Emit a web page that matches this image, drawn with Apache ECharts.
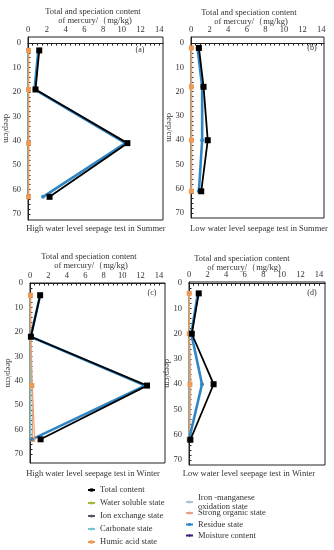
<!DOCTYPE html>
<html>
<head>
<meta charset="utf-8">
<script src="https://cdn.jsdelivr.net/npm/echarts@6/dist/echarts.min.js"></script>
<style>html,body{margin:0;padding:0;background:#fff}#c{width:334px;height:550px}</style>
</head>
<body>
<div id="c"></div>
<script>
// ---------- data ----------
const xTickLabels = [0, 2, 4, 6, 8, 10, 12, 14];
const yTickLabels = [0, 10, 20, 30, 40, 50, 60, 70];
const seriesNames = ['Total content','Water soluble state','Ion exchange state','Carbonate state','Humic acid state',
  'Iron -manganese oxidation state','Strong organic state','Residue state','Moisture content'];
const panelLabels = ['(a)','(b)','(c)','(d)'];
const panelCaptions = ['High water level seepage test in Summer','Low water level seepage test in Summer',
  'High water level seepage test in Winter','Low water level seepage test in Winter'];

// panel (a)
const depthA    = [3, 19, 41, 63];
const totalA    = [1.2, 0.8, 10.6, 2.3];
const residueA  = [1.1, 0.7, 10.4, 1.6];
const waterA    = [0.01, 0.01, 0.01, 0.01];
const ionA      = [0.02, 0.02, 0.03, 0.02];
const carbonA   = [0.03, 0.03, 0.04, 0.03];
const humicA    = [0.05, 0.05, 0.06, 0.05];
const ironA     = [0.04, 0.04, 0.05, 0.04];
const organicA  = [0.08, 0.08, 0.1, 0.08];
// panel (b)
const depthB    = [2, 18, 40, 61];
const totalB    = [0.85, 1.35, 1.8, 1.1];
const residueB  = [0.7, 1.2, 1.2, 0.85];
const waterB    = [0.01, 0.01, 0.01, 0.01];
const ionB      = [0.02, 0.02, 0.02, 0.02];
const carbonB   = [0.03, 0.03, 0.03, 0.03];
const humicB    = [0.04, 0.04, 0.05, 0.04];
const ironB     = [0.03, 0.03, 0.04, 0.03];
const organicB  = [0.07, 0.07, 0.08, 0.07];
// panel (c)
const depthC    = [5, 22, 42, 64];
const totalC    = [1.1, 0.1, 12.7, 1.15];
const residueC  = [1.1, 0.08, 12.5, 0.2];
const waterC    = [0.01, 0.01, 0.01, 0.01];
const ionC      = [0.02, 0.02, 0.03, 0.03];
const carbonC   = [0.03, 0.03, 0.03, 0.1];
const humicC    = [0.05, 0.05, 0.2, 0.3];
const ironC     = [0.04, 0.04, 0.05, 0.05];
const organicC  = [0.08, 0.1, 0.25, 0.5];
// panel (d)
const depthD    = [4, 20, 40, 62];
const totalD    = [1.05, 0.3, 2.65, 0.15];
const residueD  = [0.95, 0.25, 1.4, 0.0];
const waterD    = [0.01, 0.01, 0.01, 0.01];
const ionD      = [0.01, 0.02, 0.02, 0.01];
const carbonD   = [0.02, 0.02, 0.02, 0.02];
const humicD    = [0.02, 0.02, 0.1, 0.02];
const ironD     = [0.03, 0.03, 0.03, 0.03];
const organicD  = [0.05, 0.05, 0.2, 0.05];
const moisture  = [];

// ---------- layout / style ----------
const FONT = 'Liberation Serif';
const TXT = '#333';
const panels = [
  {depth: depthA, total: totalA, residue: residueA, water: waterA, ion: ionA, carbon: carbonA, humic: humicA, iron: ironA, organic: organicA,
   grid: {left: 28, top: 37, width: 135, height: 183}, xMax: 14.4, yMin: -2.5, yMax: 72.5,
   titleX: 93, titleY: 12, capX: 96, capY: 229, labX: 140, labY: 50},
  {depth: depthB, total: totalB, residue: residueB, water: waterB, ion: ionB, carbon: carbonB, humic: humicB, iron: ironB, organic: organicB,
   grid: {left: 191, top: 37, width: 133, height: 181}, xMax: 14.3, yMin: -2.5, yMax: 72,
   titleX: 249, titleY: 13, capX: 259, capY: 229, labX: 312, labY: 48},
  {depth: depthC, total: totalC, residue: residueC, water: waterC, ion: ionC, carbon: carbonC, humic: humicC, iron: ironC, organic: organicC,
   grid: {left: 30, top: 283, width: 135, height: 180}, xMax: 14.65, yMin: 0, yMax: 73.7,
   titleX: 89, titleY: 257, capX: 93, capY: 474, labX: 152, labY: 293},
  {depth: depthD, total: totalD, residue: residueD, water: waterD, ion: ionD, carbon: carbonD, humic: humicD, iron: ironD, organic: organicD,
   grid: {left: 189, top: 282, width: 136, height: 183}, xMax: 14.65, yMin: -0.5, yMax: 72,
   titleX: 242, titleY: 259, capX: 249, capY: 474, labX: 312, labY: 293}
];

const styles = {
  'Total content':                   {color: '#000000', symbol: 'rect', size: 6, width: 1.8},
  'Water soluble state':             {color: '#a8b83c', symbol: 'none', size: 0, width: 1},
  'Ion exchange state':              {color: '#555a66', symbol: 'none', size: 0, width: 1},
  'Carbonate state':                 {color: '#79c3d6', symbol: 'none', size: 0, width: 1.2},
  'Humic acid state':                {color: '#ee9a55', symbol: 'rect', size: 5, width: 1},
  'Iron -manganese oxidation state': {color: '#a9c4de', symbol: 'none', size: 0, width: 1},
  'Strong organic state':            {color: '#e3a18e', symbol: 'none', size: 0, width: 1.2},
  'Residue state':                   {color: '#2f86c6', symbol: 'circle', size: 4, width: 2.6},
  'Moisture content':                {color: '#3b1c78', symbol: 'diamond', size: 5, width: 1}
};
const keyOf = {
  'Total content': 'total', 'Water soluble state': 'water', 'Ion exchange state': 'ion', 'Carbonate state': 'carbon',
  'Humic acid state': 'humic', 'Iron -manganese oxidation state': 'iron', 'Strong organic state': 'organic',
  'Residue state': 'residue'
};
const drawOrder = ['Water soluble state','Ion exchange state','Iron -manganese oxidation state','Carbonate state',
  'Strong organic state','Humic acid state','Residue state','Total content'];

function range(a, b, s) { const r = []; for (let v = a; v <= b + 1e-9; v += s) r.push(+v.toFixed(3)); return r; }

const grids = [], xAxes = [], yAxes = [], series = [], graphics = [];
panels.forEach((p, i) => {
  grids.push(Object.assign({show: true, borderColor: '#222', borderWidth: 1, backgroundColor: 'transparent'}, p.grid));
  xAxes.push({
    type: 'value', gridIndex: i, position: 'top', min: 0, max: p.xMax,
    axisLine: {show: true, lineStyle: {color: '#222', width: 1}},
    axisTick: {show: true, inside: true, length: 2.5, customValues: range(0, 14, 0.5), lineStyle: {color: '#222'}},
    axisLabel: {show: true, customValues: xTickLabels, margin: 3, fontFamily: FONT, fontSize: 8.5, color: TXT},
    splitLine: {show: false}
  });
  yAxes.push({
    type: 'value', gridIndex: i, inverse: true, min: p.yMin, max: p.yMax,
    name: 'deep/cm', nameLocation: 'middle', nameRotate: -90, nameGap: 17, nameMoveOverlap: false,
    nameTextStyle: {fontFamily: FONT, fontSize: 8.5, color: TXT},
    axisLine: {show: true, lineStyle: {color: '#222', width: 1}},
    axisTick: {show: true, inside: true, length: 2.5, customValues: range(0, 70, 2), lineStyle: {color: '#222'}},
    axisLabel: {show: true, customValues: yTickLabels, margin: 7, fontFamily: FONT, fontSize: 8.5, color: TXT},
    splitLine: {show: false}
  });
  drawOrder.forEach(name => {
    const st = styles[name];
    const vals = p[keyOf[name]];
    series.push({
      name: name, type: 'line', xAxisIndex: i, yAxisIndex: i,
      data: vals.map((v, k) => [v, p.depth[k]]),
      symbol: st.symbol, symbolSize: st.size, showSymbol: st.symbol !== 'none',
      lineStyle: {color: st.color, width: st.width}, itemStyle: {color: st.color},
      silent: true, animation: false
    });
  });
  graphics.push({type: 'text', x: p.titleX, y: p.titleY, style: {text: 'Total and speciation content', font: '8.5px "Liberation Serif"', fill: TXT, textAlign: 'center', textVerticalAlign: 'middle'}});
  graphics.push({type: 'text', x: p.titleX + 2, y: p.titleY + 9, style: {text: 'of mercury/（mg/kg)', font: '8.5px "Liberation Serif"', fill: TXT, textAlign: 'center', textVerticalAlign: 'middle'}});
  graphics.push({type: 'text', x: p.capX, y: p.capY, style: {text: panelCaptions[i], font: '8.5px "Liberation Serif"', fill: TXT, textAlign: 'center', textVerticalAlign: 'middle'}});
  graphics.push({type: 'text', x: p.labX, y: p.labY, style: {text: panelLabels[i], font: '8px "Liberation Serif"', fill: TXT, textAlign: 'center', textVerticalAlign: 'middle'}});
});
series.push({name: 'Moisture content', type: 'line', xAxisIndex: 0, yAxisIndex: 0, data: moisture,
  symbol: 'diamond', symbolSize: 5, lineStyle: {color: styles['Moisture content'].color, width: 1},
  itemStyle: {color: styles['Moisture content'].color}});

const legendText = {fontFamily: FONT, fontSize: 8.5, color: TXT, lineHeight: 10};
const legends = [{
  data: seriesNames.slice(0, 5), orient: 'vertical', left: 87, top: 485, itemGap: 3, height: 64,
  itemWidth: 7, itemHeight: 4, textStyle: legendText, selectedMode: false, padding: 0
}];
const rightTops = [493, 508.5, 520, 531];
seriesNames.slice(5).forEach((n, k) => {
  legends.push({
    data: [n], orient: 'vertical', left: 185, top: rightTops[k], itemWidth: 7, itemHeight: 4, padding: 0,
    textStyle: Object.assign({}, legendText, {lineHeight: 9}), selectedMode: false,
    formatter: s => s === 'Iron -manganese oxidation state' ? 'Iron -manganese\noxidation state' : s
  });
});

const chart = echarts.init(document.getElementById('c'), null, {renderer: 'canvas'});
chart.setOption({
  animation: false,
  grid: grids, xAxis: xAxes, yAxis: yAxes, series: series, legend: legends, graphic: graphics
});
</script>
</body>
</html>
